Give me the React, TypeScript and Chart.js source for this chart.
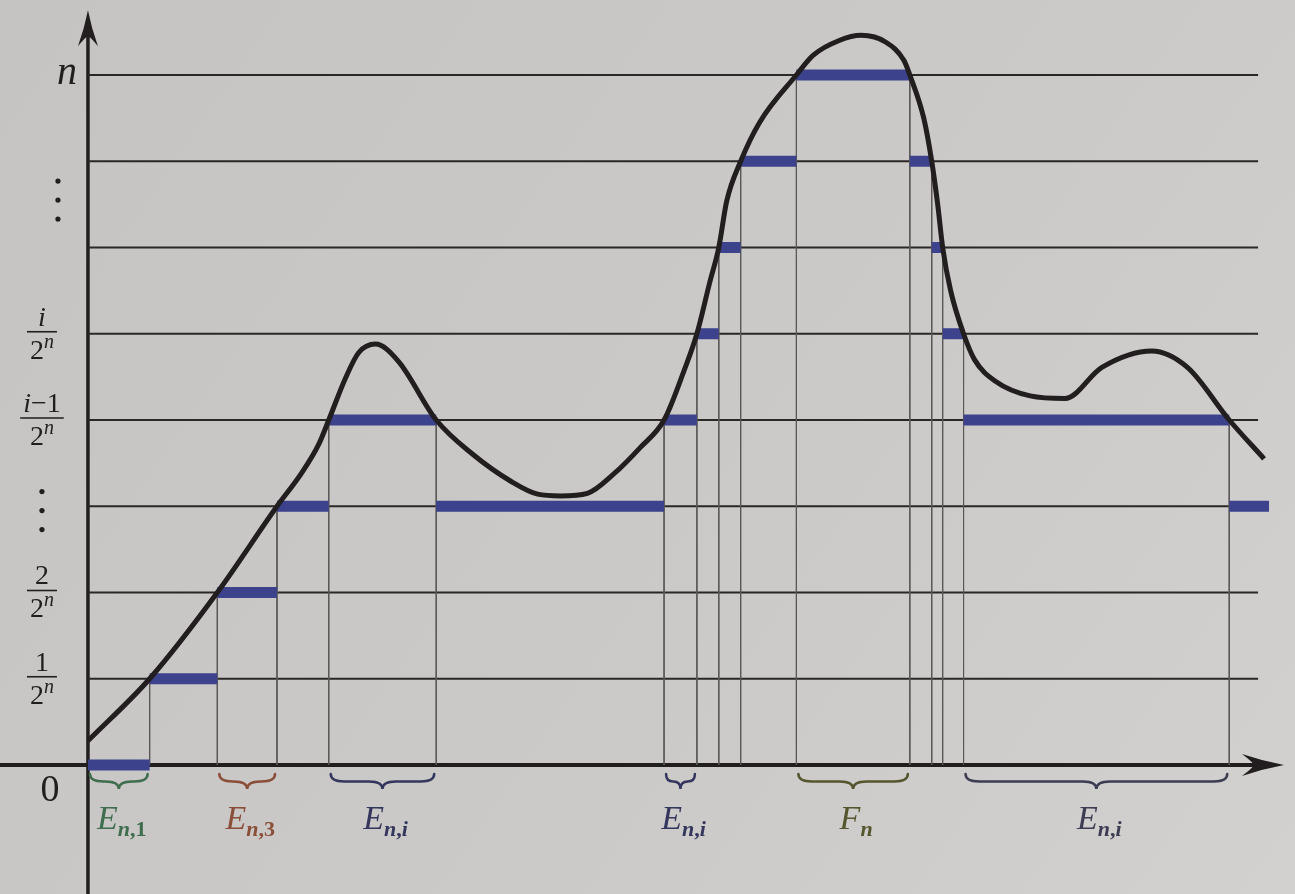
import React, { useEffect, useRef } from "react";
import { Chart, registerables } from "chart.js";

Chart.register(...registerables);

// ---- data (x in abscissa units, y in levels k/2^n) ----
const curveX = [0, 6.2, 13.0, 19.0, 21.5, 23.2, 24.2, 25.9, 27.2, 28.9, 31.2, 35.0, 38.7, 42.5, 45.2, 47.5, 50.2, 52.9, 55.5, 57.9, 59.9, 61.2, 62.5, 63.4, 64.2, 65.6, 67.5, 71.2, 72.9, 75.5, 77.7, 80.2, 82.0, 82.6, 84.0, 84.8, 85.4, 85.9, 86.7, 88.0, 89.1, 91.2, 94.7, 98.2, 101.9, 106.9, 110.5, 114.7, 118.2];
const curveY = [0.28, 1, 2, 3, 3.39, 3.72, 4, 4.49, 4.78, 4.88, 4.68, 4, 3.6, 3.29, 3.14, 3.12, 3.15, 3.38, 3.68, 4, 4.57, 5, 5.6, 6, 6.54, 7, 7.45, 8, 8.23, 8.4, 8.46, 8.38, 8.17, 8, 7.5, 7, 6.5, 6, 5.5, 5, 4.7, 4.45, 4.28, 4.25, 4.61, 4.8, 4.61, 4, 3.55];

const segStart = [0, 6.2, 13.0, 19.0, 24.2, 35.0, 57.9, 61.2, 63.4, 65.6, 71.2, 82.6, 84.8, 85.9, 88.0, 114.7];
const segEnd = [6.2, 13.0, 19.0, 24.2, 35.0, 57.9, 61.2, 63.4, 65.6, 71.2, 82.6, 84.8, 85.9, 88.0, 114.7, 118.7];
const segLevel = [0, 1, 2, 3, 4, 3, 4, 5, 6, 7, 8, 7, 6, 5, 4, 3];

const gridLevels = [1, 2, 3, 4, 5, 6, 7, 8];
const gridEnd = 117.6;

const tickLevels = [8, 5, 4, 2, 1];
const tickNumerators = ["n", "i", "i−1", "2", "1"];
const tickIsFraction = [false, true, true, true, true];
const zeroLabel = "0";
const ellipsisLevels = [6.55, 2.95];

const braceFrom = [0, 13.0, 24.2, 57.9, 71.2, 88.0];
const braceTo = [6.2, 19.0, 35.0, 61.2, 82.6, 114.7];
const braceLetters = ["E", "E", "E", "E", "F", "E"];
const braceSubs = ["n,1", "n,3", "n,i", "n,i", "n", "n,i"];

// ---- view ----
const X_MIN = -8.84;
const X_MAX = 121.31;
const Y_MIN = -1.4957;
const Y_MAX = 8.8696;
const X_TIP = 120.2;
const Y_TIP = 8.75;

const braceColors = ["#3f6e4e", "#8b4e38", "#34365e", "#34365e", "#55552e", "#3c3c52"];
const INK = "#221d1e";
const BLUE = "#3c428c";
const FONT = '"Liberation Serif", "DejaVu Serif", serif';

type Run = { t: string; size: number; italic: boolean; bold?: boolean; dy?: number; color?: string };

function runFont(r: Run) {
  return `${r.italic ? "italic " : ""}${r.bold ? "bold " : ""}${r.size}px ${FONT}`;
}
function mathRuns(s: string, size: number, dy = 0, bold = false): Run[] {
  const out: Run[] = [];
  for (const ch of s) {
    const it = /[a-zA-Z]/.test(ch);
    const last = out[out.length - 1];
    if (last && last.italic === it) last.t += ch;
    else out.push({ t: ch, size, italic: it, dy, bold });
  }
  return out;
}
function measureRuns(ctx: CanvasRenderingContext2D, runs: Run[]) {
  let w = 0;
  for (const r of runs) {
    ctx.font = runFont(r);
    w += ctx.measureText(r.t).width;
  }
  return w;
}
function drawRuns(ctx: CanvasRenderingContext2D, runs: Run[], cx: number, baseline: number) {
  const w = measureRuns(ctx, runs);
  let x = cx - w / 2;
  ctx.textAlign = "left";
  ctx.textBaseline = "alphabetic";
  for (const r of runs) {
    ctx.font = runFont(r);
    if (r.color) ctx.fillStyle = r.color;
    ctx.fillText(r.t, x, baseline + (r.dy || 0));
    x += ctx.measureText(r.t).width;
  }
  return w;
}
function arrowHead(ctx: CanvasRenderingContext2D, tx: number, ty: number, dx: number, dy: number, len: number, half: number) {
  const px = -dy, py = dx;
  const bx = tx - dx * len, by = ty - dy * len;
  const nx = tx - dx * len * 0.72, ny = ty - dy * len * 0.72;
  ctx.beginPath();
  ctx.moveTo(tx, ty);
  ctx.quadraticCurveTo(tx - dx * len * 0.5 + px * half * 0.35, ty - dy * len * 0.5 + py * half * 0.35, bx + px * half, by + py * half);
  ctx.quadraticCurveTo(nx + px * half * 0.2, ny + py * half * 0.2, nx, ny);
  ctx.quadraticCurveTo(nx - px * half * 0.2, ny - py * half * 0.2, bx - px * half, by - py * half);
  ctx.quadraticCurveTo(tx - dx * len * 0.5 - px * half * 0.35, ty - dy * len * 0.5 - py * half * 0.35, tx, ty);
  ctx.closePath();
  ctx.fill();
}
function brace(ctx: CanvasRenderingContext2D, x0: number, x1: number, y: number, h: number) {
  const mid = (x0 + x1) / 2;
  const r = Math.min(h * 0.9, (x1 - x0) / 4);
  const ym = y + h * 0.5;
  ctx.beginPath();
  ctx.moveTo(x0, y);
  ctx.quadraticCurveTo(x0, ym, x0 + r, ym);
  ctx.lineTo(mid - r, ym);
  ctx.quadraticCurveTo(mid, ym, mid, y + h);
  ctx.quadraticCurveTo(mid, ym, mid + r, ym);
  ctx.lineTo(x1 - r, ym);
  ctx.quadraticCurveTo(x1, ym, x1, y);
  ctx.stroke();
}

const paperPlugin = {
  id: "paper",
  beforeDraw(chart: any) {
    const { ctx, width, height } = chart;
    ctx.save();
    const g = ctx.createLinearGradient(0, 0, width, height);
    g.addColorStop(0, "#c5c4c2");
    g.addColorStop(0.6, "#cbcac8");
    g.addColorStop(1, "#d2d1cf");
    ctx.fillStyle = g;
    ctx.fillRect(0, 0, width, height);
    ctx.restore();
  },
};

const axesPlugin = {
  id: "axesArrows",
  beforeDatasetsDraw(chart: any) {
    const { ctx, scales, width, height } = chart;
    const xs = scales.x, ys = scales.y;
    const ax = xs.getPixelForValue(0);
    const ay = ys.getPixelForValue(0);
    const xt = xs.getPixelForValue(X_TIP);
    const yt = ys.getPixelForValue(Y_TIP);
    ctx.save();
    ctx.strokeStyle = INK;
    ctx.fillStyle = INK;
    ctx.lineWidth = 4;
    ctx.beginPath();
    ctx.moveTo(0, ay);
    ctx.lineTo(xt - 20, ay);
    ctx.stroke();
    ctx.lineWidth = 3.5;
    ctx.beginPath();
    ctx.moveTo(ax, height);
    ctx.lineTo(ax, yt + 20);
    ctx.stroke();
    arrowHead(ctx, xt, ay, 1, 0, 42, 11);
    arrowHead(ctx, ax, yt, 0, -1, 36, 10);
    ctx.restore();
  },
};

const labelsPlugin = {
  id: "mathLabels",
  afterDraw(chart: any) {
    const { ctx, scales } = chart;
    const xs = scales.x, ys = scales.y;
    const ax = xs.getPixelForValue(0);
    const ay = ys.getPixelForValue(0);
    ctx.save();
    ctx.fillStyle = INK;
    ctx.strokeStyle = INK;
    // y tick labels
    tickLevels.forEach((lv, i) => {
      const yp = ys.getPixelForValue(lv);
      if (!tickIsFraction[i]) {
        drawRuns(ctx, mathRuns(tickNumerators[i], 40), ax - 21, yp + 9);
        return;
      }
      const cx = ax - 46;
      const bar = yp - 2;
      const num = mathRuns(tickNumerators[i], 28);
      const den: Run[] = [
        { t: "2", size: 28, italic: false },
        { t: "n", size: 20, italic: true, dy: -11 },
      ];
      const wn = measureRuns(ctx, num);
      const wd = measureRuns(ctx, den);
      const w = Math.max(wn, wd) + 6;
      ctx.fillStyle = INK;
      drawRuns(ctx, num, cx, bar - 6);
      drawRuns(ctx, den, cx, bar + 27);
      ctx.lineWidth = 1.6;
      ctx.beginPath();
      ctx.moveTo(cx - w / 2, bar);
      ctx.lineTo(cx + w / 2, bar);
      ctx.stroke();
    });
    // zero
    drawRuns(ctx, [{ t: zeroLabel, size: 38, italic: false }], ax - 38, ay + 36);
    // vertical ellipses
    ellipsisLevels.forEach((lv, i) => {
      const yp = ys.getPixelForValue(lv);
      const xp = i === 0 ? ax - 30 : ax - 46;
      for (let k = -1; k <= 1; k++) {
        ctx.beginPath();
        ctx.arc(xp, yp + k * 19, 2.6, 0, Math.PI * 2);
        ctx.fill();
      }
    });
    // braces and set labels
    braceFrom.forEach((f, i) => {
      const x0 = xs.getPixelForValue(f);
      const x1 = xs.getPixelForValue(braceTo[i]);
      ctx.strokeStyle = braceColors[i];
      ctx.fillStyle = braceColors[i];
      ctx.lineWidth = 2.5;
      ctx.lineCap = "round";
      brace(ctx, x0 + 2, x1 - 2, ay + 9, 15);
      const runs: Run[] = [{ t: braceLetters[i], size: 34, italic: true }, ...mathRuns(braceSubs[i], 22, 7, true)];
      drawRuns(ctx, runs, (x0 + x1) / 2 + 3, ay + 64);
    });
    ctx.restore();
  },
};

export default function App() {
  const ref = useRef<HTMLCanvasElement>(null);
  useEffect(() => {
    const canvas = ref.current;
    if (!canvas) return;
    const curveData = curveX.map((x, i) => ({ x, y: curveY[i] }));
    const segData: any[] = [];
    segStart.forEach((s, i) => {
      segData.push({ x: s, y: segLevel[i] }, { x: segEnd[i], y: segLevel[i] }, { x: segEnd[i], y: null });
    });
    const dropData: any[] = [];
    for (let i = 1; i < segStart.length; i++) {
      const x = segStart[i];
      const h = Math.max(segLevel[i - 1], segLevel[i]);
      dropData.push({ x, y: h }, { x, y: 0 }, { x, y: null });
    }
    const gridData: any[] = [];
    gridLevels.forEach((lv) => {
      gridData.push({ x: 0, y: lv }, { x: gridEnd, y: lv }, { x: gridEnd, y: null });
    });
    const chart = new Chart(canvas, {
      type: "line",
      data: {
        datasets: [
          {
            data: curveData,
            borderColor: INK,
            borderWidth: 5,
            pointRadius: 0,
            cubicInterpolationMode: "monotone",
            borderJoinStyle: "round",
            order: 0,
          } as any,
          {
            data: segData,
            borderColor: BLUE,
            borderWidth: 11,
            pointRadius: 0,
            spanGaps: false,
            borderCapStyle: "butt",
            order: 1,
          } as any,
          {
            data: dropData,
            borderColor: "#5b5757",
            borderWidth: 1,
            pointRadius: 0,
            spanGaps: false,
            order: 2,
          } as any,
          {
            data: gridData,
            borderColor: "#2b2727",
            borderWidth: 1.8,
            pointRadius: 0,
            spanGaps: false,
            order: 3,
          } as any,
        ],
      },
      options: {
        responsive: false,
        animation: false,
        devicePixelRatio: 1,
        events: [],
        layout: { padding: 0 },
        scales: {
          x: { type: "linear", min: X_MIN, max: X_MAX, display: false },
          y: { type: "linear", min: Y_MIN, max: Y_MAX, display: false },
        },
        plugins: { legend: { display: false }, tooltip: { enabled: false } },
      },
      plugins: [paperPlugin, axesPlugin, labelsPlugin],
    });
    return () => chart.destroy();
  }, []);
  return (
    <div style={{ position: "fixed", left: 0, top: 0, width: 1295, height: 894 }}>
      <canvas ref={ref} width={1295} height={894} style={{ display: "block" }} />
    </div>
  );
}
